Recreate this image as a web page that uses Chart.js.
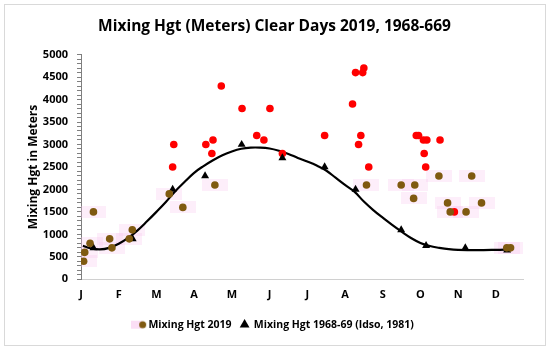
<!DOCTYPE html>
<html>
<head>
<meta charset="utf-8">
<script src="https://cdn.jsdelivr.net/npm/chart.js@4/dist/chart.umd.min.js"></script>
<style>
  html, body { margin: 0; padding: 0; background: #fff; }
  #wrap { position: relative; width: 550px; height: 350px; }
</style>
</head>
<body>
<div id="wrap"><canvas id="chart" width="550" height="350"></canvas></div>
<script>
const monthLabels = ["J","F","M","A","M","J","J","A","S","O","N","D"];

// 2019 clear days (x = months since Jan 1, y = meters)
const brownMonths = [0.07,0.10,0.24,0.33,0.76,0.82,1.28,1.36,2.34,2.70,3.55,7.57,8.49,8.85,8.82,9.49,10.36,9.72,10.62,9.79,10.21,11.29,11.39];
const brownHeights = [400,600,800,1500,900,700,900,1100,1900,1600,2100,2100,2100,2100,1800,2300,2300,1700,1700,1500,1500,700,700];

const redMonths = [2.43,2.46,3.31,3.47,3.50,3.72,4.27,4.66,4.85,5.01,5.34,6.46,7.20,7.28,7.47,7.50,7.36,7.42,7.63,8.89,8.95,9.08,9.17,9.52,9.10,9.14,9.90];
const redHeights = [2500,3000,3000,2800,3100,4300,3800,3200,3100,3800,2800,3200,3900,4600,4600,4700,3000,3200,2500,3200,3200,3100,3100,3100,2800,2500,1500];

// 1968-69 (Idso, 1981)
const idsoMonths = [0.33,1.37,2.43,3.29,4.26,5.34,6.46,7.28,8.49,9.15,10.19,11.30];
const idsoHeights = [700,900,2000,2300,3000,2700,2500,2000,1100,750,700,650];

// fitted curve
const curveMonths = [0.05,0.25,0.5,0.75,1.0,1.25,1.5,1.75,2.0,2.25,2.5,2.75,3.0,3.25,3.5,3.75,4.0,4.25,4.5,4.75,5.0,5.25,5.5,5.75,6.0,6.25,6.5,6.75,7.0,7.25,7.5,7.75,8.0,8.25,8.5,8.75,9.0,9.25,9.5,9.75,10.0,10.5,11.0,11.38];
const curveHeights = [745,690,665,700,790,920,1090,1290,1500,1720,1960,2170,2370,2520,2650,2760,2845,2905,2930,2930,2910,2860,2790,2700,2620,2530,2420,2260,2100,1950,1730,1540,1370,1210,1060,920,810,740,700,670,655,648,655,665];

const pts = (xs, ys) => xs.map((x, i) => ({ x: x, y: ys[i] }));

function makeCanvas(w, h, draw) {
  const c = document.createElement("canvas");
  c.width = w; c.height = h;
  draw(c.getContext("2d"));
  return c;
}
const pinkBox = makeCanvas(26, 12, ctx => {
  ctx.fillStyle = "rgba(248,200,238,0.3)";
  ctx.fillRect(0, 0, 26, 12);
});
const legendBrown = makeCanvas(16, 10, ctx => {
  ctx.fillStyle = "rgba(248,200,238,0.6)";
  ctx.fillRect(0, 1, 11, 8);
  ctx.fillStyle = "#7f5a10";
  ctx.beginPath(); ctx.arc(11.5, 5, 3.5, 0, Math.PI * 2); ctx.fill();
});

const framePlugin = {
  id: "frame",
  beforeDraw(chart) {
    const ctx = chart.ctx;
    ctx.save();
    ctx.fillStyle = "#fff";
    ctx.fillRect(0, 0, chart.width, chart.height);
    ctx.strokeStyle = "#d9d9d9";
    ctx.lineWidth = 1;
    ctx.strokeRect(4.5, 4.5, 541, 341);
    ctx.restore();
  }
};

Chart.defaults.font.family = "'Open Sans', 'Noto Sans', sans-serif";
Chart.defaults.color = "#000";

new Chart(document.getElementById("chart"), {
  type: "scatter",
  plugins: [framePlugin],
  data: {
    datasets: [
      {
        label: "Mixing Hgt 2019",
        data: pts(brownMonths, brownHeights),
        backgroundColor: "#7f5a10",
        borderColor: "#7f5a10",
        pointRadius: 3.8,
        borderWidth: 0
      },
      {
        label: "Mixing Hgt 1968-69 (Idso, 1981)",
        data: pts(idsoMonths, idsoHeights),
        pointStyle: "triangle",
        backgroundColor: "#000",
        borderColor: "#000",
        pointRadius: 4.6,
        borderWidth: 0
      },
      {
        label: "red",
        data: pts(redMonths, redHeights),
        backgroundColor: "#ff0000",
        borderColor: "#ff0000",
        pointRadius: 3.8,
        borderWidth: 0
      },
      {
        label: "curve",
        data: pts(curveMonths, curveHeights),
        showLine: true,
        borderColor: "#000",
        borderWidth: 2.2,
        pointRadius: 0,
        tension: 0.4,
        fill: false
      },
      {
        label: "pink",
        data: pts(brownMonths, brownHeights),
        pointStyle: pinkBox,
        pointRadius: 6
      }
    ]
  },
  options: {
    responsive: false,
    animation: false,
    layout: { padding: { left: 26, right: 27, top: 4, bottom: 10 } },
    scales: {
      x: {
        type: "linear",
        min: 0,
        max: 11.72,
        afterBuildTicks: axis => { axis.ticks = monthLabels.map((m, i) => ({ value: i })); },
        ticks: {
          autoSkip: false,
          maxRotation: 0,
          padding: 9,
          font: { size: 11, weight: "bold" },
          callback: v => monthLabels[v] ?? ""
        },
        grid: { display: false, drawTicks: false },
        border: { display: true, color: "#d0d0d0", width: 1 }
      },
      y: {
        min: 0,
        max: 5000,
        afterFit: axis => { axis.width = 55; },
        ticks: {
          stepSize: 100,
          autoSkip: false,
          padding: 9,
          font: { size: 11, weight: "bold" },
          callback: v => (v % 500 === 0 ? v : "")
        },
        grid: { drawOnChartArea: false, drawTicks: true, tickLength: 4, color: "#7f7f7f" },
        border: { display: true, color: "#7f7f7f", width: 1 },
        title: {
          display: true,
          text: "Mixing Hgt in Meters",
          font: { size: 12, weight: "bold" },
          padding: { top: 0, bottom: 3 }
        }
      }
    },
    plugins: {
      title: {
        display: true,
        text: "Mixing Hgt (Meters) Clear Days 2019, 1968-669",
        font: { size: 15.5, weight: "bold" },
        color: "#000",
        padding: { top: 13, bottom: 19 }
      },
      legend: {
        position: "bottom",
        labels: {
          usePointStyle: true,
          boxWidth: 8,
          boxHeight: 8,
          padding: 9,
          font: { size: 10.5, weight: "bold" },
          generateLabels: chart => {
            const items = Chart.defaults.plugins.legend.labels.generateLabels(chart).filter(it => it.datasetIndex < 2);
            items[0].pointStyle = legendBrown;
            return items;
          }
        }
      },
      tooltip: { enabled: false }
    }
  }
});
</script>
</body>
</html>
